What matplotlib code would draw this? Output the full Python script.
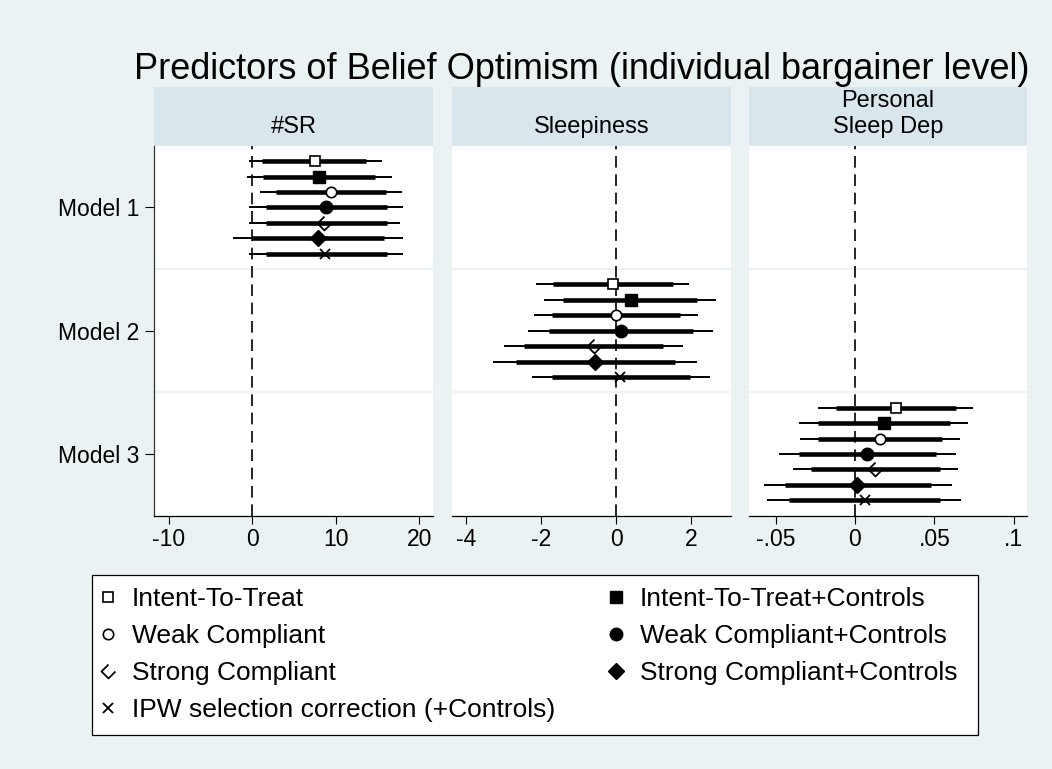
import numpy as np
import matplotlib.pyplot as plt
from matplotlib.path import Path
from matplotlib.patches import Rectangle
from matplotlib.lines import Line2D

plt.rcParams['font.family'] = ['Liberation Sans', 'DejaVu Sans']

# Stata-like colours
bg_col = '#EAF2F3'
strip_col = '#D9E6EB'

series = ['Intent-To-Treat', 'Intent-To-Treat+Controls',
          'Weak Compliant', 'Weak Compliant+Controls',
          'Strong Compliant', 'Strong Compliant+Controls',
          'IPW selection correction (+Controls)']
panels = ['#SR', 'Sleepiness', 'Personal\nSleep Dep']
models = ['Model 1', 'Model 2', 'Model 3']

# panel 1: #SR (Model 1)
sr_est = [7.5, 8.0, 9.4, 8.8, 8.6, 7.9, 8.7]
sr_lo95 = [-0.4, -0.7, 0.9, -0.4, -0.4, -2.3, -0.4]
sr_hi95 = [15.5, 16.7, 17.9, 18.1, 17.7, 18.1, 18.1]
sr_lo90 = [1.2, 1.3, 2.8, 1.6, 1.6, 0.0, 1.6]
sr_hi90 = [13.6, 14.7, 16.0, 16.1, 16.1, 15.8, 16.1]

# panel 2: Sleepiness (Model 2)
sl_est = [-0.09, 0.39, 0.0, 0.12, -0.60, -0.56, 0.11]
sl_lo95 = [-2.14, -1.91, -2.19, -2.36, -2.98, -3.29, -2.23]
sl_hi95 = [1.96, 2.67, 2.19, 2.60, 1.78, 2.17, 2.50]
sl_lo90 = [-1.67, -1.42, -1.70, -1.79, -2.45, -2.68, -1.70]
sl_hi90 = [1.51, 2.17, 1.71, 2.06, 1.24, 1.57, 1.97]

# panel 3: Personal Sleep Dep (Model 3)
pd_est = [0.0256, 0.0183, 0.0158, 0.0078, 0.0124, 0.0015, 0.0061]
pd_lo95 = [-0.0231, -0.0353, -0.0347, -0.0479, -0.0391, -0.0574, -0.0553]
pd_hi95 = [0.0744, 0.0715, 0.0662, 0.0635, 0.0652, 0.0610, 0.0670]
pd_lo90 = [-0.0122, -0.0233, -0.0233, -0.0353, -0.0275, -0.0444, -0.0416]
pd_hi90 = [0.0635, 0.0597, 0.0551, 0.0509, 0.0536, 0.0477, 0.0536]

panel_data = [(sr_est, sr_lo95, sr_hi95, sr_lo90, sr_hi90),
              (sl_est, sl_lo95, sl_hi95, sl_lo90, sl_hi90),
              (pd_est, pd_lo95, pd_hi95, pd_lo90, pd_hi90)]

x_ticks = [[-10, 0, 10, 20], [-4, -2, 0, 2], [-0.05, 0, 0.05, 0.1]]
x_ticklabels = [['-10', '0', '10', '20'], ['-4', '-2', '0', '2'], ['-.05', '0', '.05', '.1']]
x_limits = [(-11.76, 21.7), (-4.37, 3.06), (-0.0668, 0.1086)]

# open diamond with one edge missing (as in the original)
open_diamond = Path([(0, 1), (-1, 0), (0, -1), (1, 0)],
                    [Path.MOVETO, Path.LINETO, Path.LINETO, Path.LINETO])
marker_style = [
    dict(marker='s', ms=7, mfc='white', mec='black', mew=1.2),
    dict(marker='s', ms=9, mfc='black', mec='black'),
    dict(marker='o', ms=7.5, mfc='white', mec='black', mew=1.2),
    dict(marker='o', ms=9, mfc='black', mec='black'),
    dict(marker=open_diamond, ms=10, mfc='none', mec='black', mew=1.3),
    dict(marker='D', ms=8.5, mfc='black', mec='black'),
    dict(marker='x', ms=7, mec='black', mew=1.3),
]

W, H = 1052, 769
fig = plt.figure(figsize=(W / 100, H / 100), dpi=100, facecolor=bg_col)

ax_x = [(154.3, 433.3), (452.3, 730.7), (749.0, 1027.3)]
top_px, bot_px = 145.7, 515.7
strip_h = (bot_px - top_px)
offsets = (np.arange(7) - 3) * 0.125

for p in range(3):
    x0, x1 = ax_x[p]
    ax = fig.add_axes([x0 / W, 1 - bot_px / H, (x1 - x0) / W, (bot_px - top_px) / H])
    ax.set_facecolor('white')
    est, lo95, hi95, lo90, hi90 = panel_data[p]
    y_base = p + 1
    for i in range(7):
        y = y_base + offsets[i]
        ax.plot([lo95[i], hi95[i]], [y, y], color='black', lw=1.4, solid_capstyle='butt', zorder=3)
        ax.plot([lo90[i], hi90[i]], [y, y], color='black', lw=3.3, solid_capstyle='butt', zorder=3)
        ax.plot([est[i]], [y], linestyle='none', zorder=5, **marker_style[i])
    ax.axvline(0, color='black', lw=1.2, dashes=(7, 4), zorder=4)
    for sep in [1.5, 2.5]:
        ax.axhline(sep, color=bg_col, lw=1.5, zorder=1)

    ax.set_xlim(*x_limits[p])
    ax.set_ylim(3.5, 0.5)
    ax.set_xticks(x_ticks[p])
    ax.set_xticklabels(x_ticklabels[p])
    ax.tick_params(axis='x', length=5.5, width=0.8, pad=3, labelsize=16.5)
    for s in ['top', 'right']:
        ax.spines[s].set_visible(False)
    ax.spines['bottom'].set_linewidth(0.9)
    if p == 0:
        ax.set_yticks([1, 2, 3])
        ax.set_yticklabels(models)
        ax.tick_params(axis='y', length=6.5, width=0.8, pad=4.5, labelsize=16.5)
        ax.spines['left'].set_linewidth(0.9)
        ax.spines['left'].set_color('#333333')
    else:
        ax.set_yticks([])
        ax.spines['left'].set_visible(False)

    # strip header
    sh = (top_px - 87.3) / strip_h
    ax.add_patch(Rectangle((0, 1), 1, sh, transform=ax.transAxes, facecolor=strip_col,
                           edgecolor='none', clip_on=False))
    ax.text(0.5, 1.02, panels[p], transform=ax.transAxes, ha='center', va='bottom',
            fontsize=17, linespacing=1.25)

fig.text(581.5 / W, 1 - 79 / H, 'Predictors of Belief Optimism (individual bargainer level)',
         ha='center', va='baseline', fontsize=26)

# legend box drawn by hand, entries placed column-wise
fig.patches.append(Rectangle((92.3 / W, 1 - 735 / H), (978 - 92.3) / W, (735 - 575) / H,
                             transform=fig.transFigure, facecolor='white',
                             edgecolor='black', lw=0.9, zorder=0))
order = [0, 2, 4, 6, 1, 3, 5]
handles = [Line2D([], [], linestyle='none', **marker_style[i]) for i in order]
leg = fig.legend(handles, [series[i] for i in order], ncol=2, loc='upper left',
                 bbox_to_anchor=(92.3 / W, 1 - 575 / H), borderaxespad=0, fontsize=19,
                 frameon=False, handlelength=0.3, handletextpad=0.75,
                 labelspacing=0.5, borderpad=0.45, columnspacing=2.15)

fig.savefig('out.png', dpi=100, facecolor=bg_col)
